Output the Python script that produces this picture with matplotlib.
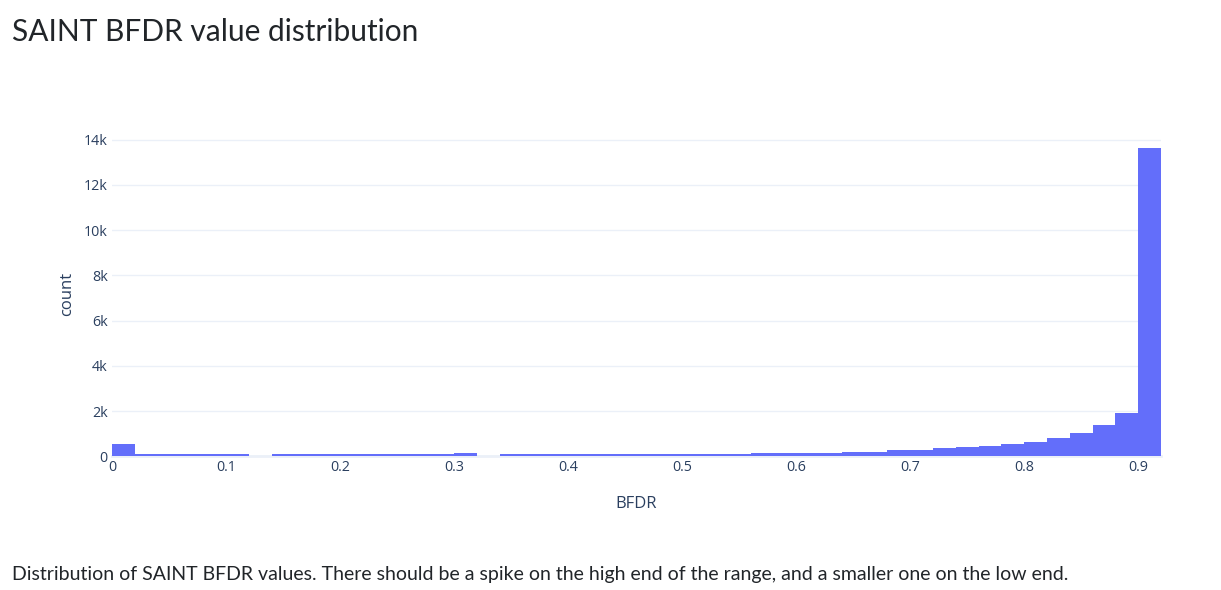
import numpy as np
import matplotlib.pyplot as plt
from matplotlib.ticker import FuncFormatter

# histogram of SAINT BFDR values, bins of 0.02 from 0 to 0.92
bin_start = 0.0
bin_width = 0.02
counts = [545,
          100, 100, 100, 100, 100,
          0,
          100, 100, 100, 100, 100, 100, 100, 100,
          160,
          0,
          100, 100, 100, 100, 100, 100, 100, 100, 100, 100, 100,
          150, 150, 150, 150,
          200, 200,
          280, 280,
          354, 411, 455, 557, 645, 822, 1043, 1383, 1927, 13640]

y_ticks = [0, 2000, 4000, 6000, 8000, 10000, 12000, 14000]
x_ticks = [0, 0.1, 0.2, 0.3, 0.4, 0.5, 0.6, 0.7, 0.8, 0.9]

title = 'SAINT BFDR value distribution'
caption = ('Distribution of SAINT BFDR values. There should be a spike on the high end '
           'of the range, and a smaller one on the low end.')

text_col = '#2a3f5f'
grid_col = '#EBF0F8'
bar_col = '#636efa'

fig = plt.figure(figsize=(12.21, 5.9), dpi=100)
ax = fig.add_axes([0.0917, 0.2266, 0.8592, 0.5505])

lefts = bin_start + bin_width * np.arange(len(counts))
ax.bar(lefts, counts, width=bin_width, align='edge', color=bar_col,
       linewidth=0, zorder=2)
ax.axhline(0, color=grid_col, lw=2, zorder=1, clip_on=False)

ax.set_xlim(0, 0.92)
ax.set_ylim(0, 14358)
ax.set_yticks(y_ticks)
ax.set_xticks(x_ticks)
ax.yaxis.set_major_formatter(FuncFormatter(lambda v, p: '0' if v == 0 else f'{int(v / 1000)}k'))
ax.xaxis.set_major_formatter(FuncFormatter(lambda v, p: '0' if v == 0 else f'{v:.1f}'))
ax.grid(axis='y', color=grid_col, lw=1, zorder=0)
ax.set_axisbelow(True)
for s in ax.spines.values():
    s.set_visible(False)
ax.tick_params(length=0, labelsize=10.3, labelcolor=text_col, pad=3)
for lab in ax.get_xticklabels() + ax.get_yticklabels():
    lab.set_fontfamily('Open Sans')

ax.set_xlabel('BFDR', fontsize=12, color=text_col, family='Open Sans', labelpad=15)
ax.set_ylabel('count', fontsize=12, color=text_col, family='Open Sans', labelpad=6)

fig.text(12 / 1221, 1 - 41 / 590, title, family='Lato', fontsize=21.5,
         color='#212529', va='baseline', ha='left')
fig.text(12 / 1221, 1 - 580 / 590, caption, family='Lato', fontsize=14.0,
         color='#212529', va='baseline', ha='left')

fig.savefig('out.png', dpi=100, facecolor='white')
